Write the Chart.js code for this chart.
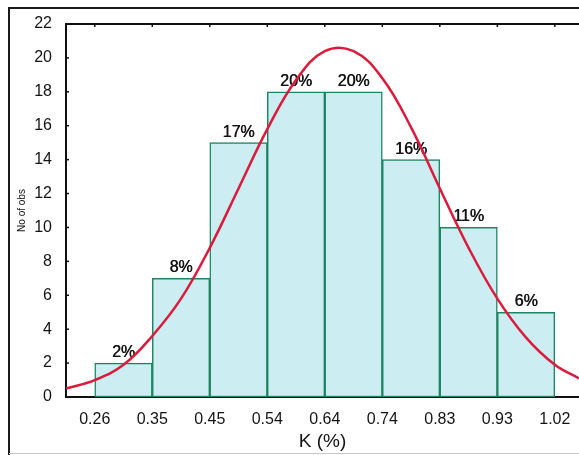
<!DOCTYPE html>
<html>
<head>
<meta charset="utf-8">
<script src="https://cdn.jsdelivr.net/npm/chart.js@4.4.1/dist/chart.umd.min.js"></script>
<style>
  html, body { margin: 0; padding: 0; background: #fff; overflow: hidden; }
  #wrap { width: 579px; height: 455px; position: relative; }
</style>
</head>
<body>
<div id="wrap"><canvas id="chart" width="579" height="455"></canvas></div>
<script>
'use strict';

// Bin edges printed under the bars (K %)
const binLabels = ['0.26', '0.35', '0.45', '0.54', '0.64', '0.74', '0.83', '0.93', '1.02'];

// Number of observations per bin (bar i spans edge i to edge i+1)
const counts = [2, 7, 15, 18, 18, 14, 10, 5];

// Share of observations written on top of each bar
const percentLabels = ['2%', '8%', '17%', '20%', '20%', '16%', '11%', '6%'];

// Fitted normal curve (x in bin-edge units, 0 = 0.26)
const curveX = [-0.5, 0, 0.5, 1, 1.5, 2, 2.5, 3, 3.5, 4, 4.5, 5, 5.5, 6, 6.5, 7, 7.5, 8, 8.42];
const curveY = [0.5, 1.0, 1.9, 3.6, 5.8, 8.8, 12.3, 15.8, 18.7, 20.4, 20.4, 18.8, 15.9, 12.3, 8.8, 5.8, 3.5, 1.9, 1.1];

// Y axis ticks
const yTicks = [0, 2, 4, 6, 8, 10, 12, 14, 16, 18, 20, 22];

const FONT = "'Liberation Sans', Arial, sans-serif";
const INK = '#141414';

// White page, outer frame, top axis line and the small inward ticks
const frame = {
  id: 'frame',
  beforeDraw(chart) {
    const { ctx } = chart;
    ctx.save();
    ctx.fillStyle = '#fff';
    ctx.fillRect(0, 0, chart.width, chart.height);
    ctx.restore();
  },
  afterDraw(chart) {
    const { ctx, chartArea } = chart;
    const x = chart.scales.x;
    const y = chart.scales.y;
    ctx.save();
    // outer frame
    ctx.strokeStyle = '#1a1a1a';
    ctx.lineWidth = 2;
    ctx.beginPath();
    ctx.moveTo(9, 455);
    ctx.lineTo(9, 8);
    ctx.lineTo(chart.width + 2, 8);
    ctx.stroke();
    ctx.strokeStyle = '#c8c8c8';
    ctx.lineWidth = 1;
    ctx.beginPath();
    ctx.moveTo(9, 453.5);
    ctx.lineTo(chart.width, 453.5);
    ctx.stroke();
    // top axis line
    ctx.strokeStyle = '#111';
    ctx.lineWidth = 2;
    ctx.beginPath();
    ctx.moveTo(chartArea.left, chartArea.top);
    ctx.lineTo(chartArea.right + 2, chartArea.top);
    ctx.stroke();
    // little ticks along the top
    ctx.lineWidth = 1.5;
    binLabels.forEach((_, i) => {
      const px = x.getPixelForValue(i);
      ctx.beginPath();
      ctx.moveTo(px, chartArea.top);
      ctx.lineTo(px, chartArea.top + 3);
      ctx.stroke();
    });
    // little ticks on the y axis
    yTicks.forEach(v => {
      const py = y.getPixelForValue(v);
      ctx.beginPath();
      ctx.moveTo(chartArea.left, py);
      ctx.lineTo(chartArea.left + 3, py);
      ctx.stroke();
    });
    ctx.restore();
  }
};

// Percent labels over the bars (drawn before the curve)
const percentText = {
  id: 'percentText',
  afterDatasetDraw(chart, args) {
    if (args.index !== 0) return;
    const { ctx } = chart;
    ctx.save();
    ctx.fillStyle = INK;
    ctx.font = '16px ' + FONT;
    ctx.textAlign = 'center';
    ctx.textBaseline = 'alphabetic';
    args.meta.data.forEach((bar, i) => {
      // fake a slightly heavier stroke like the scanned original
      ctx.fillText(percentLabels[i], bar.x, bar.y - 6);
      ctx.fillText(percentLabels[i], bar.x + 0.5, bar.y - 6);
    });
    ctx.restore();
  }
};

const barData = counts.map((c, i) => ({ x: i + 0.5, y: c }));
const curveData = curveX.map((cx, i) => ({ x: cx, y: curveY[i] }));

new Chart(document.getElementById('chart'), {
  type: 'bar',
  data: {
    datasets: [{
      type: 'bar',
      data: barData,
      backgroundColor: '#ccedf2',
      borderColor: '#1d8560',
      borderWidth: 1.5,
      borderSkipped: false,
      barPercentage: 1,
      categoryPercentage: 1,
      order: 2
    }, {
      type: 'line',
      data: curveData,
      borderColor: '#dc1a3c',
      borderWidth: 2.5,
      pointRadius: 0,
      tension: 0.4,
      fill: false,
      order: 1
    }]
  },
  options: {
    responsive: false,
    animation: false,
    events: [],
    layout: { padding: { left: 12, top: 24, right: 0, bottom: 0 } },
    plugins: {
      legend: { display: false },
      tooltip: { enabled: false }
    },
    scales: {
      x: {
        type: 'linear',
        offset: false,
        min: -0.5,
        max: 8.42,
        afterBuildTicks(scale) {
          scale.ticks = binLabels.map((_, i) => ({ value: i }));
        },
        afterFit(scale) { scale.height = 58; },
        grid: { display: false },
        border: { color: '#111', width: 2 },
        ticks: {
          color: INK,
          padding: 5,
          maxRotation: 0,
          autoSkip: false,
          font: { family: FONT, size: 16 },
          callback: (v) => binLabels[Math.round(v)]
        },
        title: {
          display: true,
          text: 'K (%)',
          color: INK,
          padding: { top: 0, bottom: 2 },
          font: { family: FONT, size: 19 }
        }
      },
      y: {
        min: 0,
        max: 22,
        afterBuildTicks(scale) {
          scale.ticks = yTicks.map(v => ({ value: v }));
        },
        afterFit(scale) { scale.width = 54; },
        grid: { display: false },
        border: { color: '#111', width: 2 },
        ticks: {
          color: INK,
          padding: 6,
          font: { family: FONT, size: 16 }
        },
        title: {
          display: true,
          text: 'No of obs',
          color: INK,
          padding: { top: 4, bottom: 4 },
          font: { family: FONT, size: 10 }
        }
      }
    }
  },
  plugins: [frame, percentText]
});
</script>
